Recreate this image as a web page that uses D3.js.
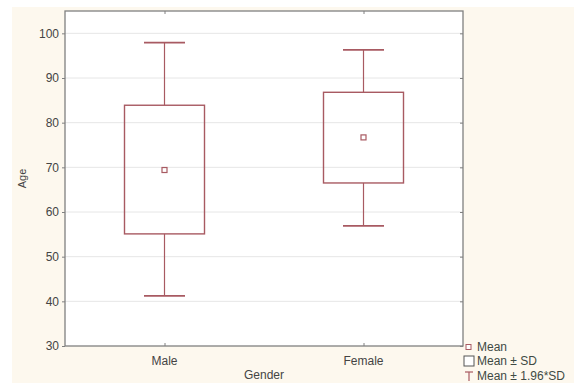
<!DOCTYPE html>
<html>
<head>
<meta charset="utf-8">
<script src="https://cdn.jsdelivr.net/npm/d3@7"></script>
<style>
body{margin:0;background:#fff}
text{font-family:Arial,"Liberation Sans",sans-serif}
</style>
</head>
<body>
<div id="chart"></div>
<script>
var groups = ["Male","Female"]
var means = [69.4, 76.7]
var sdLow = [55.1, 66.5]
var sdHigh = [83.9, 86.8]
var ciLow = [41.2, 56.9]
var ciHigh = [97.9, 96.3]
var yTicks = [30,40,50,60,70,80,90,100]
var legendLabels = ["Mean","Mean \u00b1 SD","Mean \u00b1 1.96*SD"]

var width = 574
var height = 383
var pLeft = 65, pRight = 463, pTop = 11, pBottom = 346
var boxColor = "#a85a62"
var axisColor = "#808080"
var textColor = "#444"

var svg = d3.select("#chart").append("svg")
	.attr("width",width)
	.attr("height",height)

svg.append("rect").attr("x",12).attr("y",7).attr("width",width-12).attr("height",height-7).attr("fill","#fdf8ee")
svg.append("rect").attr("x",pLeft).attr("y",pTop).attr("width",pRight-pLeft).attr("height",pBottom-pTop).attr("fill","#fff")

var xScale = d3.scalePoint().domain(groups).range([pLeft,pRight]).padding(0.5)
var yScale = d3.scaleLinear().domain([30,105]).range([pBottom,pTop])

// grid
svg.selectAll(".grid")
	.data(yTicks.filter(function(d){return d>30}))
	.enter()
	.append("line")
	.attr("x1",pLeft).attr("x2",pRight)
	.attr("y1",function(d){return yScale(d)})
	.attr("y2",function(d){return yScale(d)})
	.attr("stroke","#e6e6e6")
	.attr("stroke-width",1)

// axes
var yAxis = d3.axisLeft(yScale).tickValues(yTicks).tickSize(3).tickPadding(3)
var yG = svg.append("g").attr("transform","translate("+pLeft+",0)").call(yAxis)
var yAxisR = d3.axisLeft(yScale).tickValues(yTicks).tickSize(3).tickFormat("")
var yGR = svg.append("g").attr("transform","translate("+pRight+",0)").call(yAxisR)
var xAxis = d3.axisTop(xScale).tickSize(3).tickFormat("")
var xG = svg.append("g").attr("transform","translate(0,"+pBottom+")").call(xAxis)
var xAxisT = d3.axisBottom(xScale).tickSize(3).tickFormat("")
var xGT = svg.append("g").attr("transform","translate(0,"+pTop+")").call(xAxisT)

;[yG,yGR,xG,xGT].forEach(function(g){
	g.select(".domain").remove()
	g.selectAll("line").attr("stroke",axisColor)
	g.selectAll("text").attr("fill",textColor).style("font-size","12px")
})
svg.append("rect").attr("x",pLeft).attr("y",pTop).attr("width",pRight-pLeft).attr("height",pBottom-pTop)
	.attr("fill","none").attr("stroke",axisColor).attr("stroke-width",1.3)

svg.selectAll(".xlab")
	.data(groups)
	.enter()
	.append("text")
	.attr("x",function(d){return xScale(d)})
	.attr("y",pBottom+19)
	.attr("text-anchor","middle")
	.attr("fill",textColor)
	.style("font-size","12px")
	.text(function(d){return d})

svg.append("text").text("Gender").attr("x",(pLeft+pRight)/2).attr("y",height-4)
	.attr("text-anchor","middle").attr("fill",textColor).style("font-size","12px")
svg.append("text").text("Age").attr("transform","translate(26,"+((pTop+pBottom)/2)+") rotate(-90)")
	.attr("text-anchor","middle").attr("fill",textColor).style("font-size","11px")

// boxes
var boxW = 80, capW = 41
var g = svg.selectAll(".box").data(groups).enter().append("g")
g.append("line")
	.attr("x1",function(d){return xScale(d)}).attr("x2",function(d){return xScale(d)})
	.attr("y1",function(d,i){return yScale(ciHigh[i])}).attr("y2",function(d,i){return yScale(sdHigh[i])})
	.attr("stroke",boxColor).attr("stroke-width",1.2)
g.append("line")
	.attr("x1",function(d){return xScale(d)}).attr("x2",function(d){return xScale(d)})
	.attr("y1",function(d,i){return yScale(ciLow[i])}).attr("y2",function(d,i){return yScale(sdLow[i])})
	.attr("stroke",boxColor).attr("stroke-width",1.2)
g.append("line")
	.attr("x1",function(d){return xScale(d)-capW/2}).attr("x2",function(d){return xScale(d)+capW/2})
	.attr("y1",function(d,i){return yScale(ciHigh[i])}).attr("y2",function(d,i){return yScale(ciHigh[i])})
	.attr("stroke",boxColor).attr("stroke-width",1.8)
g.append("line")
	.attr("x1",function(d){return xScale(d)-capW/2}).attr("x2",function(d){return xScale(d)+capW/2})
	.attr("y1",function(d,i){return yScale(ciLow[i])}).attr("y2",function(d,i){return yScale(ciLow[i])})
	.attr("stroke",boxColor).attr("stroke-width",1.8)
g.append("rect")
	.attr("x",function(d){return xScale(d)-boxW/2})
	.attr("y",function(d,i){return yScale(sdHigh[i])})
	.attr("width",boxW)
	.attr("height",function(d,i){return yScale(sdLow[i])-yScale(sdHigh[i])})
	.attr("fill","none").attr("stroke",boxColor).attr("stroke-width",1.4)
g.append("rect")
	.attr("x",function(d){return xScale(d)-2.5})
	.attr("y",function(d,i){return yScale(means[i])-2.5})
	.attr("width",5).attr("height",5)
	.attr("fill","#fff").attr("stroke",boxColor).attr("stroke-width",1.2)

// legend
var lx = 468
var ly = [347,361,376]
var leg = svg.append("g")
leg.append("rect").attr("x",lx-2).attr("y",ly[0]-2.5).attr("width",5).attr("height",5)
	.attr("fill","#fff").attr("stroke",boxColor).attr("stroke-width",1)
leg.append("rect").attr("x",lx-4).attr("y",ly[1]-5).attr("width",10).attr("height",10)
	.attr("fill","#fff").attr("stroke","#555").attr("stroke-width",1)
leg.append("line").attr("x1",lx-3).attr("x2",lx+5).attr("y1",ly[2]-4).attr("y2",ly[2]-4).attr("stroke",boxColor).attr("stroke-width",1.2)
leg.append("line").attr("x1",lx+1).attr("x2",lx+1).attr("y1",ly[2]-4).attr("y2",ly[2]+5).attr("stroke",boxColor).attr("stroke-width",1.2)
leg.selectAll(".lt").data(legendLabels).enter().append("text")
	.attr("x",477).attr("y",function(d,i){return ly[i]+4})
	.attr("fill","#3f4a44").style("font-size","12px")
	.text(function(d){return d})
</script>
</body>
</html>
